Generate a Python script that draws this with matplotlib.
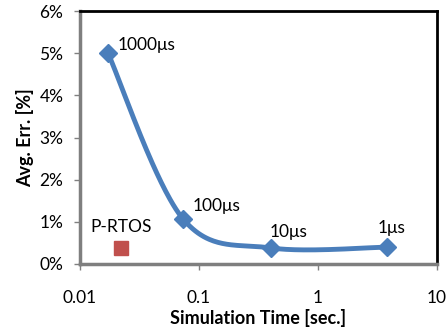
import numpy as np
import matplotlib
matplotlib.use("Agg")
import matplotlib.pyplot as plt
from matplotlib.ticker import FuncFormatter

# data
sim_time = [0.0172, 0.0734, 0.403, 3.8]
avg_err = [5.0, 1.07, 0.38, 0.40]
point_labels = ["1000μs", "100μs", "10μs", "1μs"]
rtos_time = [0.0221]
rtos_err = [0.38]

plt.rcParams['font.family'] = ['Lato', 'DejaVu Sans']

# Excel-like smoothed line (Catmull-Rom in log-x space)
px = np.log10(sim_time)
py = np.array(avg_err)
P = np.column_stack([px, py])
P_ext = np.vstack([P[0], P, P[-1]])
curve = []
t = np.linspace(0, 1, 60)
for i in range(1, len(P_ext) - 2):
    p0, p1, p2, p3 = P_ext[i - 1], P_ext[i], P_ext[i + 1], P_ext[i + 2]
    c1 = p1 + (p2 - p0) / 6
    c2 = p2 - (p3 - p1) / 6
    seg = ((1 - t) ** 3)[:, None] * p1 + (3 * (1 - t) ** 2 * t)[:, None] * c1 \
        + (3 * (1 - t) * t ** 2)[:, None] * c2 + (t ** 3)[:, None] * p2
    curve.append(seg)
curve = np.vstack(curve)

fig = plt.figure(figsize=(4.48, 3.30), dpi=100)
ax = fig.add_axes([80 / 448, 66 / 330, 357 / 448, 253 / 330])

blue = '#4A7EBB'
ax.plot(10 ** curve[:, 0], curve[:, 1], color=blue, lw=3.5, solid_capstyle='round')
ax.plot(sim_time, avg_err, linestyle='none', marker='D', color=blue, markersize=9)
ax.plot(rtos_time, rtos_err, linestyle='none', marker='s', color='#C0504D', markersize=10)

fs = 12.5
offsets = [(7, 6), (7, 9), (-1, 11.5), (-6.5, 13.7)]
for x, y, lab, off in zip(sim_time, avg_err, point_labels, offsets):
    ax.annotate(lab, (x, y), xytext=off, textcoords='offset points',
                fontsize=fs, ha='left', va='center')
ax.annotate("P-RTOS", (rtos_time[0], rtos_err[0]), xytext=(0, 15),
            textcoords='offset points', fontsize=fs, ha='center', va='center')

ax.set_xscale('log')
ax.set_xlim(0.01, 10)
ax.set_ylim(0, 6)
ax.set_yticks(range(0, 7))
ax.yaxis.set_major_formatter(FuncFormatter(lambda v, p: f"{int(v)}%"))
ax.set_xticks([0.01, 0.1, 1, 10])
ax.set_xticklabels(["0.01", "0.1", "1", "10"])
ax.minorticks_off()
ax.tick_params(labelsize=fs, length=4, width=1, color='#808080')
ax.tick_params(axis='x', pad=15)
ax.tick_params(axis='y', pad=8)

for s in ['left', 'bottom']:
    ax.spines[s].set_color('#7f7f7f')
    ax.spines[s].set_linewidth(2.5)
for s in ['top', 'right']:
    ax.spines[s].set_color('black')
    ax.spines[s].set_linewidth(2)

ax.set_xlabel("Simulation Time [sec.]", fontsize=13, fontweight='bold', labelpad=2)
ax.set_ylabel("Avg. Err. [%]", fontsize=13, fontweight='bold', labelpad=4)

fig.savefig("out.png", dpi=100)
